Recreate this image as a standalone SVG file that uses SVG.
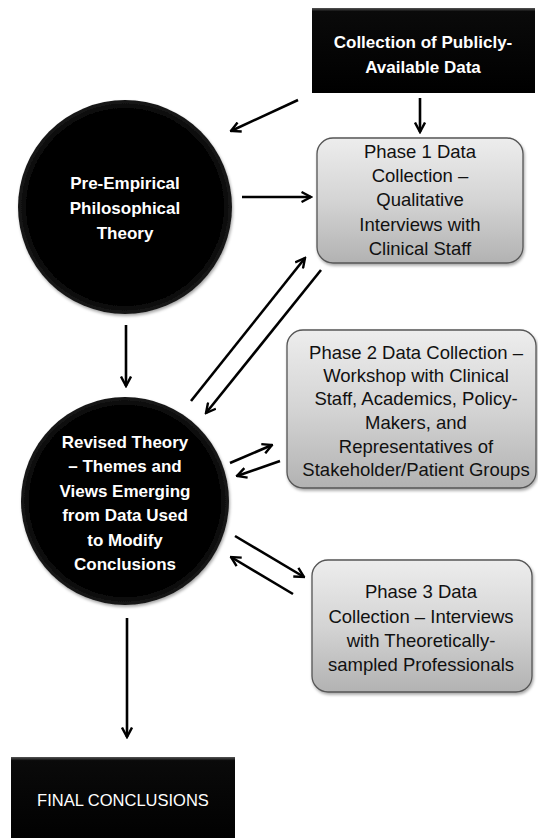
<svg xmlns="http://www.w3.org/2000/svg" width="538" height="838" viewBox="0 0 538 838">
<style>
.bt{font-family:"Liberation Sans",Arial,sans-serif;font-weight:bold;font-size:17px;fill:#fff;text-anchor:middle}
.ft{font-family:"Liberation Sans",Arial,sans-serif;font-size:16.5px;fill:#fff;text-anchor:middle}
.pt{font-family:"Liberation Sans",Arial,sans-serif;font-size:18.5px;fill:#111;text-anchor:middle}
.phase{fill:url(#gg);stroke:#555;stroke-width:1.3}
.blk{fill:url(#bk)}
.conn line{stroke:#000;stroke-width:2.6;marker-end:url(#ah)}
</style>
<defs>
<linearGradient id="gg" x1="0" y1="0" x2="0" y2="1">
<stop offset="0" stop-color="#ededed"/>
<stop offset="0.5" stop-color="#d4d4d4"/>
<stop offset="1" stop-color="#b2b2b2"/>
</linearGradient>
<linearGradient id="bk" x1="0" y1="0" x2="0" y2="1">
<stop offset="0" stop-color="#555"/>
<stop offset="0.04" stop-color="#0a0a0a"/>
<stop offset="1" stop-color="#000"/>
</linearGradient>
<radialGradient id="cg" cx="0.5" cy="0.5" r="0.5">
<stop offset="0.9" stop-color="#000"/>
<stop offset="1" stop-color="#1a1a1a"/>
</radialGradient>
<filter id="sh" x="-10%" y="-10%" width="120%" height="130%">
<feDropShadow dx="1" dy="2" stdDeviation="1.5" flood-color="#000" flood-opacity="0.35"/>
</filter>
<marker id="ah" viewBox="0 0 12 12" refX="10.5" refY="6" markerWidth="12" markerHeight="12" markerUnits="userSpaceOnUse" orient="auto">
<path d="M1,1 L10.5,6 L1,11" fill="none" stroke="#000" stroke-width="2.4" stroke-linejoin="miter"/>
</marker>
</defs>
<rect width="538" height="838" fill="#fff"/>

<g id="publicData">
<rect x="312" y="8" width="223" height="85" class="blk"/>
<text class="bt" x="423" y="48">Collection of Publicly-</text>
<text class="bt" x="423" y="73">Available Data</text>
</g>

<g id="preEmpirical">
<circle cx="125" cy="207" r="107" fill="url(#cg)" filter="url(#sh)"/>
<text class="bt" x="125" y="189">Pre-Empirical</text>
<text class="bt" x="125" y="214">Philosophical</text>
<text class="bt" x="125" y="239">Theory</text>
</g>

<g id="phase1">
<rect x="317" y="138" width="206" height="125" rx="16" class="phase" filter="url(#sh)"/>
<text class="pt" x="420" y="158">Phase 1 Data</text>
<text class="pt" x="420" y="182">Collection –</text>
<text class="pt" x="420" y="206">Qualitative</text>
<text class="pt" x="420" y="231">Interviews with</text>
<text class="pt" x="420" y="255">Clinical Staff</text>
</g>

<g id="revisedTheory">
<circle cx="125" cy="501" r="104" fill="url(#cg)" filter="url(#sh)"/>
<text class="bt" x="125" y="448">Revised Theory</text>
<text class="bt" x="125" y="472">– Themes and</text>
<text class="bt" x="125" y="497">Views Emerging</text>
<text class="bt" x="125" y="521">from Data Used</text>
<text class="bt" x="125" y="546">to Modify</text>
<text class="bt" x="125" y="570">Conclusions</text>
</g>

<g id="phase2">
<rect x="287" y="330" width="249" height="158" rx="16" class="phase" filter="url(#sh)"/>
<text class="pt" x="416" y="359">Phase 2 Data Collection –</text>
<text class="pt" x="416" y="382">Workshop with Clinical</text>
<text class="pt" x="416" y="405">Staff, Academics, Policy-</text>
<text class="pt" x="416" y="429">Makers, and</text>
<text class="pt" x="416" y="453">Representatives of</text>
<text class="pt" x="416" y="476">Stakeholder/Patient Groups</text>
</g>

<g id="phase3">
<rect x="312" y="560" width="220" height="132" rx="16" class="phase" filter="url(#sh)"/>
<text class="pt" x="421" y="598">Phase 3 Data</text>
<text class="pt" x="421" y="623">Collection – Interviews</text>
<text class="pt" x="421" y="647">with Theoretically-</text>
<text class="pt" x="421" y="671">sampled Professionals</text>
</g>

<g id="finalConclusions">
<rect x="11" y="757" width="224" height="90" class="blk"/>
<text class="ft" x="123" y="806">FINAL CONCLUSIONS</text>
</g>

<g id="connectors" class="conn">
<line x1="298" y1="100" x2="231" y2="131"/>
<line x1="420" y1="98" x2="420" y2="132"/>
<line x1="242" y1="197" x2="311" y2="197"/>
<line x1="191" y1="401" x2="305" y2="258"/>
<line x1="321" y1="270" x2="206" y2="413"/>
<line x1="126" y1="325" x2="126" y2="386"/>
<line x1="230" y1="463" x2="272" y2="445"/>
<line x1="280" y1="461" x2="237" y2="476"/>
<line x1="235" y1="536" x2="304" y2="577"/>
<line x1="293" y1="594" x2="231" y2="557"/>
<line x1="127" y1="618" x2="127" y2="737"/>
</g>
</svg>
